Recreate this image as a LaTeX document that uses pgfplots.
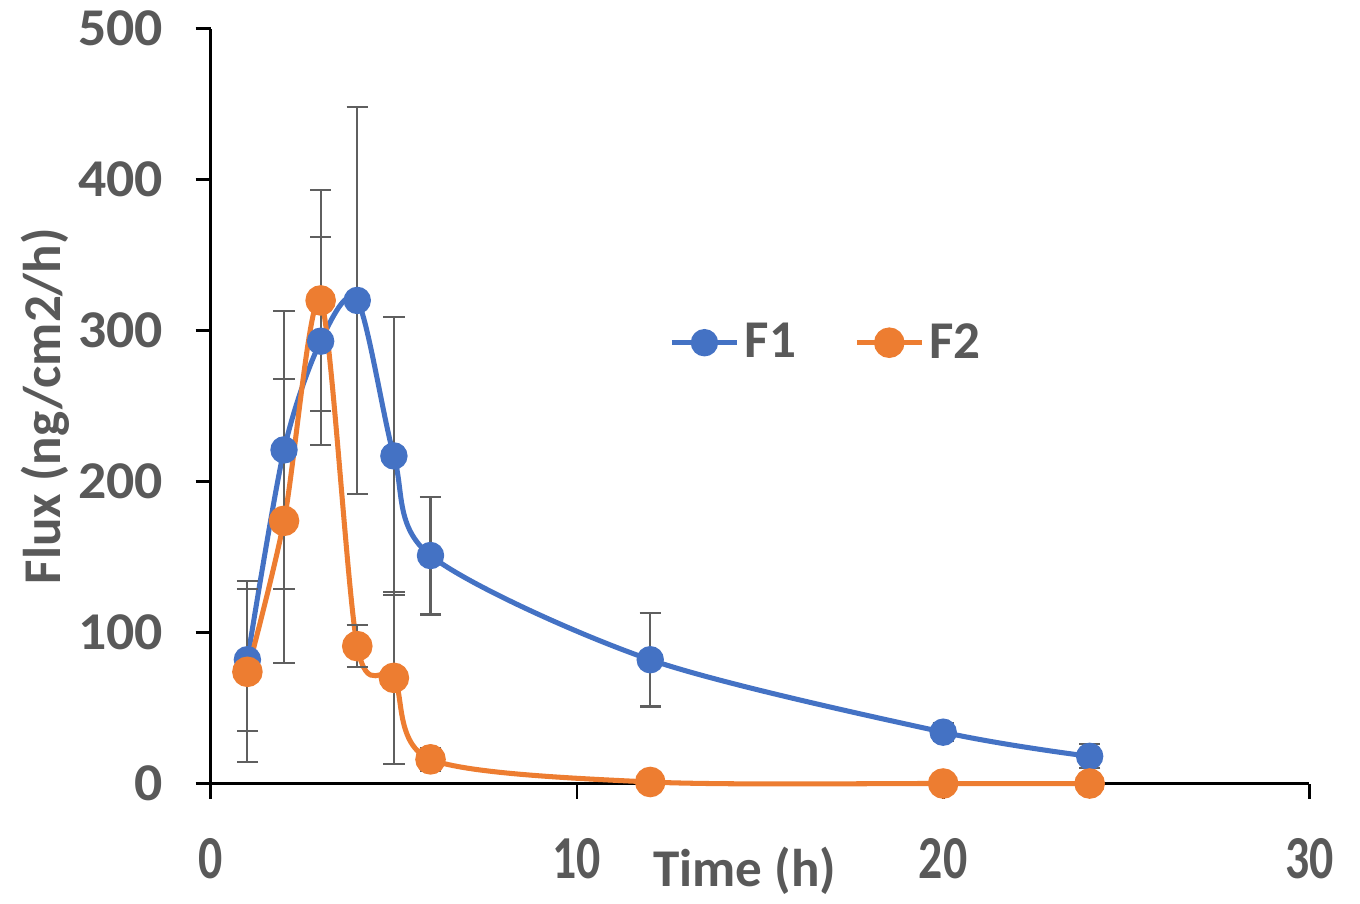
\documentclass[border=0pt]{standalone}
\usepackage{fontspec}
\setmainfont{Carlito}
\usepackage{pgfplots}
\pgfplotsset{compat=1.18}
\definecolor{SerBlue}{HTML}{4472C4}
\definecolor{SerOrange}{HTML}{ED7D31}
\definecolor{LabelGray}{HTML}{595959}
\definecolor{BarGray}{HTML}{5F5F5F}

% mean flux and error (ng/cm2/h)
\pgfplotstableread{
x y e
1 82 47
2 221 92
3 293 69
4 320 128
5 217 92
6 151 39
12 82 31
20 34 6
24 18 8
}\fone
\pgfplotstableread{
x y e
1 74 60
2 174 94
3 320 73
4 91 14
5 70 57
6 16 7.5
12 1 1
20 0 0
24 0 0
}\ftwo

\begin{document}
\begin{tikzpicture}
\path (-2.79,-1.43) rectangle (15.21,10.37);
\begin{axis}[
  at={(0,0)},anchor=south west,
  scale only axis,width=14.54cm,height=9.99cm,
  xmin=0,xmax=30,ymin=0,ymax=500,
  xtick={0,10,20,30},ytick={0,100,200,300,400,500},
  axis x line=bottom,axis y line=left,
  axis line style={-,black,line width=1.1pt},
  tick style={black,line width=1.1pt},
  tick align=outside,major tick length=0.2cm,
  /pgf/number format/assume math mode=true,
  tick label style={font=\fontsize{20}{22}\selectfont\bfseries,text=LabelGray},
  yticklabel style={xshift=-0.3cm,xscale=1.05},
  xticklabel style={yshift=-0.38cm,yscale=1.15,xscale=0.9},
  xlabel={Time (h)},ylabel={Flux (ng/cm2/h)},
  label style={font=\fontsize{20}{22}\selectfont\bfseries,text=LabelGray},
  xlabel style={at={(axis description cs:0.486,0)},anchor=north,yshift=-0.72cm},
  ylabel style={at={(axis description cs:-0.151,0.5)},anchor=center},
  legend style={at={(axis cs:16.85,292)},anchor=center,draw=none,fill=none,
    font=\fontsize{20}{22}\selectfont\bfseries,text=LabelGray,legend columns=2,
    /tikz/every even column/.append style={column sep=0.7cm}},
  legend image code/.code={\draw[mark repeat=2,mark phase=2,#1] plot coordinates {(0cm,0cm) (0.43cm,0cm) (0.86cm,0cm)};},
  clip=false]
\addplot+[smooth,SerBlue,line width=1.9pt,mark=*,mark size=4.2pt,mark options={fill=SerBlue,draw=SerBlue},
  error bars/.cd,y dir=both,y explicit,
  error bar style={BarGray,line width=0.8pt},
  error mark options={rotate=90,BarGray,mark size=4pt,line width=0.8pt}]
  table[x=x,y=y,y error=e]{\fone};
\addlegendentry{F1}
\addplot+[smooth,SerOrange,line width=1.9pt,mark=*,mark size=4.8pt,mark options={fill=SerOrange,draw=SerOrange},
  error bars/.cd,y dir=both,y explicit,
  error bar style={BarGray,line width=0.8pt},
  error mark options={rotate=90,BarGray,mark size=4pt,line width=0.8pt}]
  table[x=x,y=y,y error=e]{\ftwo};
\addlegendentry{F2}
\end{axis}
\end{tikzpicture}
\end{document}
